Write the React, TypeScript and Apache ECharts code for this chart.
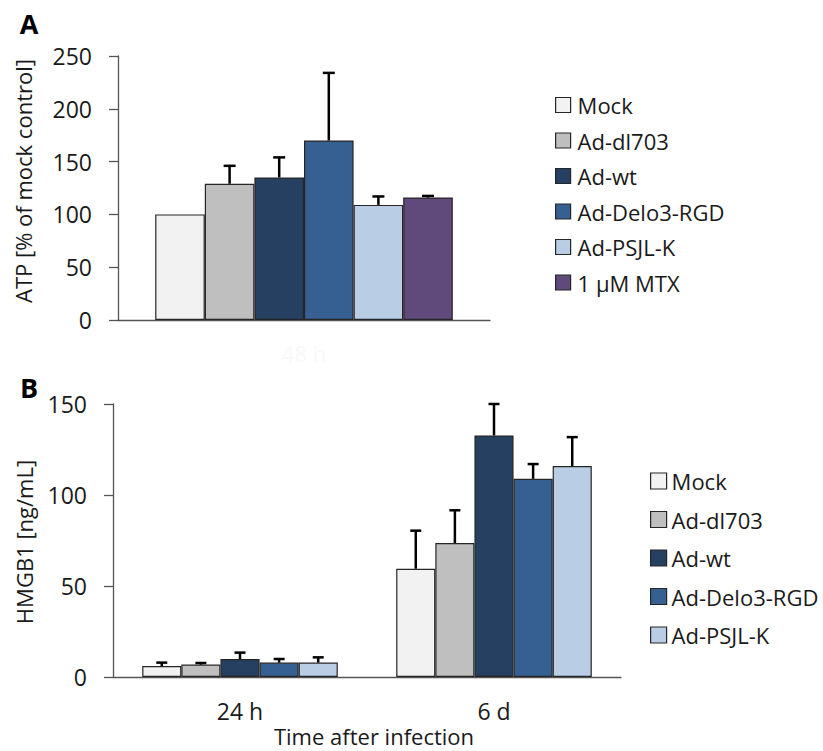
import React, { useEffect, useRef } from "react";
import * as echarts from "echarts";

const categoriesA = ["48 h"];
const categoriesB = ["24 h", "6 d"];
const seriesNamesA = ["Mock", "Ad-dl703", "Ad-wt", "Ad-Delo3-RGD", "Ad-PSJL-K", "1 µM MTX"];
const seriesNamesB = ["Mock", "Ad-dl703", "Ad-wt", "Ad-Delo3-RGD", "Ad-PSJL-K"];
const colors = ["#f2f2f2", "#bfbfbf", "#254061", "#366092", "#b9cde5", "#604a7b"];
const atpMeans = [100, 129, 135, 170, 109, 116];
const atpErrors = [0, 17, 19, 64, 8, 1.5];
const hmgb24h = [6.0, 6.8, 9.9, 7.9, 7.9];
const hmgb24hErr = [1.9, 0.9, 3.5, 2.0, 2.9];
const hmgb6d = [59.5, 73.6, 132.7, 108.9, 115.9];
const hmgb6dErr = [20.9, 18.0, 17.3, 8.1, 15.9];
const ticksA = { min: 0, max: 250, interval: 50 };
const ticksB = { min: 0, max: 150, interval: 50 };

const FONT = "Open Sans";
const TXT = "#1a1a1a";
const AXIS = "#555555";

export default function App() {
  const ref = useRef<HTMLDivElement>(null);
  useEffect(() => {
    document.body.style.margin = "0";
    const chart = echarts.init(ref.current!, null, { renderer: "svg" });
    const gapA = 0.2;
    const gapB = 0.23;

    const errSeries = (
      name: string,
      idx: number,
      n: number,
      gap: number,
      axisIndex: number,
      data: number[][],
      cap: number
    ) => ({
      type: "custom",
      name: "err-" + name + "-" + axisIndex,
      xAxisIndex: axisIndex,
      yAxisIndex: axisIndex,
      z: 5,
      encode: { x: 0, y: 1 },
      data,
      renderItem: (params: any, api: any) => {
        const cat = api.value(0);
        const v = api.value(1);
        const e = api.value(2);
        if (!e) return null;
        const base = api.coord([cat, v]);
        const top = api.coord([cat, v + e]);
        const band = api.size([1, 0])[0];
        const bw = (band * (1 - gap)) / n;
        const x = base[0] + (idx - (n - 1) / 2) * bw;
        const st = { stroke: "#000", lineWidth: 2.5 };
        return {
          type: "group",
          children: [
            { type: "line", shape: { x1: x, y1: base[1], x2: x, y2: top[1] }, style: st },
            { type: "line", shape: { x1: x - cap, y1: top[1], x2: x + cap, y2: top[1] }, style: st },
          ],
        };
      },
    });

    const barsA = seriesNamesA.map((name, i) => ({
      type: "bar",
      name,
      xAxisIndex: 0,
      yAxisIndex: 0,
      data: [atpMeans[i]],
      barGap: "0%",
      barCategoryGap: gapA * 100 + "%",
      itemStyle: { color: colors[i], borderColor: "#262626", borderWidth: 1.2 },
    }));
    const errsA = seriesNamesA.map((name, i) =>
      errSeries(name, i, seriesNamesA.length, gapA, 0, [[0, atpMeans[i], atpErrors[i]]], 6)
    );
    const barsB = seriesNamesB.map((name, i) => ({
      type: "bar",
      name,
      xAxisIndex: 1,
      yAxisIndex: 1,
      data: [hmgb24h[i], hmgb6d[i]],
      barGap: "0%",
      barCategoryGap: gapB * 100 + "%",
      itemStyle: { color: colors[i], borderColor: "#262626", borderWidth: 1.2 },
    }));
    const errsB = seriesNamesB.map((name, i) =>
      errSeries(
        name,
        i,
        seriesNamesB.length,
        gapB,
        1,
        [
          [0, hmgb24h[i], hmgb24hErr[i]],
          [1, hmgb6d[i], hmgb6dErr[i]],
        ],
        5.5
      )
    );

    const yAxisCommon = (t: { min: number; max: number; interval: number }, gridIndex: number) => ({
      type: "value",
      gridIndex,
      min: t.min,
      max: t.max,
      interval: t.interval,
      splitLine: { show: false },
      axisLine: { show: true, lineStyle: { color: AXIS, width: 1.3 } },
      axisTick: { show: true, length: 9, lineStyle: { color: AXIS, width: 1.3 } },
      axisLabel: { fontFamily: FONT, fontSize: 23, color: TXT, margin: 26 },
    });

    chart.setOption({
      animation: false,
      textStyle: { fontFamily: FONT },
      grid: [
        { left: 118, top: 56, width: 372, height: 264 },
        { left: 113, top: 404, width: 508, height: 273 },
      ],
      xAxis: [
        {
          type: "category",
          gridIndex: 0,
          data: categoriesA,
          axisLine: { lineStyle: { color: AXIS, width: 1.3 } },
          axisTick: { show: false },
          axisLabel: { fontFamily: FONT, fontSize: 22, color: "#f9f9f9", margin: 22 },
        },
        {
          type: "category",
          gridIndex: 1,
          data: categoriesB,
          axisLine: { lineStyle: { color: AXIS, width: 1.3 } },
          axisTick: { show: false },
          axisLabel: { fontFamily: FONT, fontSize: 23, color: TXT, margin: 22 },
        },
      ],
      yAxis: [yAxisCommon(ticksA, 0), yAxisCommon(ticksB, 1)],
      legend: [
        {
          data: seriesNamesA,
          orient: "vertical",
          left: 550,
          top: 88,
          itemWidth: 15,
          itemHeight: 15,
          itemGap: 11.5,
          icon: "rect",
          selectedMode: false,
          itemStyle: { borderColor: "#262626", borderWidth: 1.2 },
          textStyle: { fontFamily: FONT, fontSize: 22, color: TXT, lineHeight: 24, padding: [0, 0, 0, 2] },
        },
        {
          data: seriesNamesB,
          orient: "vertical",
          left: 645,
          top: 464,
          itemWidth: 16,
          itemHeight: 16,
          itemGap: 14.5,
          icon: "rect",
          selectedMode: false,
          itemStyle: { borderColor: "#262626", borderWidth: 1.2 },
          textStyle: { fontFamily: FONT, fontSize: 22, color: TXT, lineHeight: 24 },
        },
      ],
      graphic: [
        { type: "text", x: 29, y: 23, style: { text: "A", font: `bold 27px "${FONT}"`, fill: "#000", align: "center", verticalAlign: "middle" } },
        { type: "text", x: 29, y: 387, style: { text: "B", font: `bold 27px "${FONT}"`, fill: "#000", align: "center", verticalAlign: "middle" } },
        {
          type: "text",
          x: 23,
          y: 181,
          rotation: Math.PI / 2,
          style: { text: "ATP [% of mock control]", font: `22px "${FONT}"`, fill: TXT, align: "center", verticalAlign: "middle" },
        },
        {
          type: "text",
          x: 24,
          y: 542,
          rotation: Math.PI / 2,
          style: { text: "HMGB1 [ng/mL]", font: `22px "${FONT}"`, fill: TXT, align: "center", verticalAlign: "middle" },
        },
        {
          type: "text",
          x: 374,
          y: 736,
          style: { text: "Time after infection", font: `22px "${FONT}"`, fill: TXT, align: "center", verticalAlign: "middle" },
        },
      ],
      series: [...barsA, ...errsA, ...barsB, ...errsB],
    });
    return () => chart.dispose();
  }, []);
  return <div ref={ref} style={{ width: 823, height: 751 }} />;
}
